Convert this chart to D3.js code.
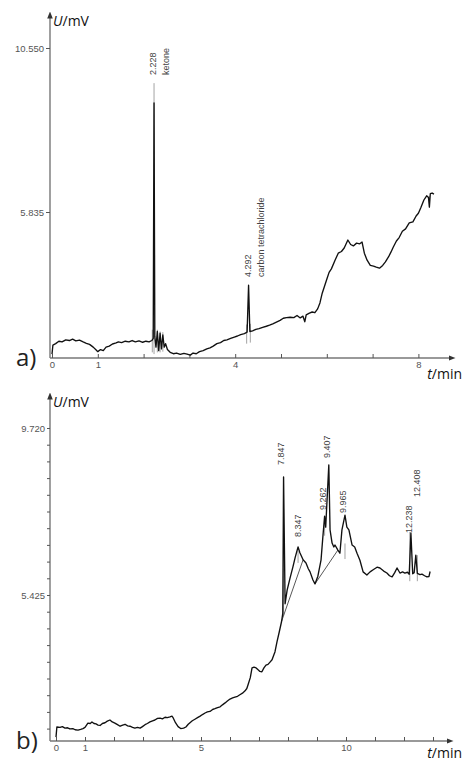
<!DOCTYPE html>
<html>
<head>
<meta charset="utf-8">
<script src="https://cdn.jsdelivr.net/npm/d3@7"></script>
<style>
  body { margin: 0; background: #fff; }
  svg { display: block; }
</style>
</head>
<body>
<div id="chart"></div>
<script>
// panel a) signal trace, t in min, U in mV
var aTime = [0.00, 0.02, 0.08, 0.15, 0.22, 0.30, 0.38, 0.45, 0.52, 0.60, 0.68, 0.75, 0.82, 0.90, 0.97, 1.00,
  1.06, 1.12, 1.18, 1.25, 1.32, 1.40, 1.45, 1.52, 1.60, 1.68, 1.75, 1.82, 1.90, 1.98, 2.05, 2.12, 2.18, 2.21,
  2.228, 2.245, 2.27, 2.30, 2.33, 2.36, 2.39, 2.42, 2.45, 2.48, 2.52, 2.58, 2.65, 2.72, 2.80, 2.88, 2.95, 3.02,
  3.08, 3.15, 3.22, 3.30, 3.38, 3.45, 3.52, 3.60, 3.68, 3.75, 3.82, 3.90, 3.98, 4.05, 4.12, 4.20, 4.26, 4.292,
  4.32, 4.38, 4.45, 4.52, 4.60, 4.68, 4.75, 4.82, 4.90, 4.98, 5.05, 5.12, 5.20, 5.28, 5.35, 5.42, 5.48, 5.52,
  5.55, 5.62, 5.68, 5.74, 5.80, 5.85, 5.90, 5.95, 6.00, 6.05, 6.10, 6.18, 6.25, 6.32, 6.38, 6.46, 6.52, 6.58,
  6.65, 6.72, 6.77, 6.82, 6.88, 6.95, 7.02, 7.08, 7.15, 7.22, 7.28, 7.35, 7.40, 7.45, 7.52, 7.58, 7.65, 7.72,
  7.80, 7.88, 7.95, 8.00, 8.05, 8.12, 8.18, 8.22, 8.24, 8.26, 8.30, 8.34];
var aVolt = [1.75, 2.01, 2.05, 2.12, 2.10, 2.16, 2.14, 2.18, 2.13, 2.15, 2.10, 2.06, 2.03, 1.95, 1.86, 1.82,
  1.88, 1.85, 1.95, 1.98, 2.04, 2.07, 2.10, 2.08, 2.12, 2.10, 2.14, 2.10, 2.13, 2.09, 2.12, 2.10, 2.14, 2.20,
  8.97, 2.25, 1.95, 2.40, 1.85, 2.35, 1.90, 2.30, 1.95, 2.05, 1.88, 1.80, 1.76, 1.78, 1.74, 1.77, 1.75, 1.72,
  1.78, 1.76, 1.82, 1.85, 1.90, 1.93, 1.98, 2.05, 2.08, 2.14, 2.16, 2.20, 2.24, 2.27, 2.31, 2.34, 2.38, 3.73,
  2.40, 2.42, 2.46, 2.48, 2.52, 2.55, 2.58, 2.62, 2.67, 2.72, 2.78, 2.80, 2.81, 2.80, 2.86, 2.79, 2.84, 2.68,
  2.88, 2.93, 2.96, 2.94, 3.05, 3.22, 3.50, 3.70, 3.90, 4.10, 4.20, 4.45, 4.65, 4.70, 4.80, 5.03, 4.90, 4.86,
  4.94, 4.92, 4.97, 4.65, 4.45, 4.30, 4.28, 4.25, 4.22, 4.30, 4.40, 4.55, 4.68, 4.82, 5.00, 5.10, 5.28, 5.35,
  5.52, 5.55, 5.72, 5.80, 5.95, 6.18, 6.30, 6.25, 5.98, 6.36, 6.38, 6.35];

// panel b) signal trace
var bTime = [0.00, 0.03, 0.14, 0.22, 0.31, 0.40, 0.48, 0.58, 0.66, 0.76, 0.85, 0.93, 1.00, 1.10, 1.18, 1.24,
  1.31, 1.38, 1.45, 1.52, 1.60, 1.69, 1.77, 1.86, 1.94, 2.03, 2.12, 2.21, 2.30, 2.38, 2.47, 2.55, 2.64, 2.72,
  2.81, 2.90, 2.98, 3.07, 3.15, 3.24, 3.33, 3.41, 3.50, 3.59, 3.67, 3.76, 3.84, 3.93, 4.00, 4.03, 4.12, 4.21,
  4.30, 4.40, 4.48, 4.56, 4.62, 4.70, 4.79, 4.88, 4.97, 5.05, 5.14, 5.22, 5.31, 5.40, 5.48, 5.57, 5.66, 5.74,
  5.83, 5.91, 6.00, 6.09, 6.17, 6.26, 6.34, 6.43, 6.52, 6.58, 6.62, 6.70, 6.76, 6.83, 6.90, 6.97, 7.03, 7.10,
  7.17, 7.24, 7.31, 7.38, 7.45, 7.52, 7.55, 7.62, 7.70, 7.78, 7.82, 7.847, 7.90, 7.97, 8.07, 8.17, 8.25, 8.347,
  8.41, 8.52, 8.62, 8.70, 8.76, 8.86, 8.93, 9.03, 9.14, 9.20, 9.262, 9.30, 9.407, 9.45, 9.52, 9.58, 9.62, 9.72,
  9.79, 9.86, 9.965, 10.03, 10.10, 10.21, 10.30, 10.38, 10.48, 10.59, 10.72, 10.83, 10.95, 11.07, 11.17, 11.30,
  11.41, 11.50, 11.59, 11.68, 11.76, 11.86, 11.95, 12.03, 12.12, 12.18, 12.238, 12.30, 12.35, 12.408, 12.46,
  12.55, 12.62, 12.71, 12.79, 12.86, 12.90];
var bVolt = [1.77, 2.03, 2.02, 2.04, 2.00, 2.01, 1.98, 1.99, 1.96, 1.95, 1.97, 1.99, 2.02, 2.13, 2.12, 2.16,
  2.12, 2.11, 2.08, 2.07, 2.12, 2.14, 2.18, 2.21, 2.16, 2.13, 2.09, 2.05, 2.08, 2.10, 2.06, 2.05, 2.02, 2.00,
  2.02, 2.00, 2.04, 2.09, 2.12, 2.16, 2.19, 2.21, 2.25, 2.26, 2.24, 2.28, 2.27, 2.29, 2.31, 2.28, 2.14, 2.04,
  1.99, 2.00, 2.03, 2.10, 2.14, 2.19, 2.23, 2.27, 2.31, 2.35, 2.39, 2.42, 2.43, 2.48, 2.50, 2.53, 2.55, 2.60,
  2.65, 2.70, 2.75, 2.78, 2.80, 2.82, 2.86, 2.90, 2.96, 3.02, 3.11, 3.30, 3.55, 3.57, 3.55, 3.50, 3.46, 3.45,
  3.55, 3.62, 3.64, 3.70, 3.76, 3.90, 3.96, 4.22, 4.48, 4.75, 4.95, 8.46, 5.20, 5.55, 5.86, 6.15, 6.40, 6.66,
  6.51, 6.33, 6.25, 6.10, 6.02, 5.81, 5.71, 5.91, 6.33, 6.90, 7.45, 7.17, 8.77, 7.10, 6.76, 6.66, 6.71, 6.58,
  6.50, 7.10, 7.48, 7.17, 7.10, 6.71, 6.66, 6.50, 6.32, 6.02, 5.94, 6.02, 6.08, 6.14, 6.12, 6.04,
  5.99, 5.92, 5.89, 6.00, 6.12, 5.99, 6.02, 5.99, 6.01, 5.96, 7.02, 5.97, 6.00, 6.45, 5.98,
  5.95, 5.96, 5.92, 5.89, 5.90, 6.03];

// integration baselines in panel b: [t0, U0, t1, U1]
var bBaselines = [[7.78, 4.75, 8.52, 6.33], [8.93, 5.71, 9.72, 6.58]];

// peak marker strokes (grey)
var aMarkTime = [2.228, 2.19, 2.30, 2.36, 2.42, 4.25, 4.33, 8.24];
var aMarkLow  = [1.75, 1.80, 1.80, 1.80, 1.82, 2.05, 2.08, 5.95];
var aMarkHigh = [9.54, 2.45, 2.45, 2.40, 2.38, 2.60, 2.62, 6.30];
var bMarkTime = [7.847, 8.347, 9.262, 9.965, 12.20, 12.46];
var bMarkLow  = [4.90, 6.25, 6.95, 6.35, 5.78, 5.78];
var bMarkHigh = [8.46, 6.55, 7.40, 6.75, 7.05, 6.45];

// peak labels
var aPeakTime = [2.228, 4.292];
var aPeakText = ["2.228", "4.292"];
var aPeakName = ["ketone", "carbon tetrachloride"];
var bPeakTime = [7.847, 8.347, 9.262, 9.407, 9.965, 12.238, 12.408];
var bPeakText = ["7.847", "8.347", "9.262", "9.407", "9.965", "12.238", "12.408"];

// ticks
var aYTicks = [10.550, 5.835];
var aXLabels = [0, 1, 4, 8];
var bYTicks = [9.720, 5.425];
var bXLabels = [0, 1, 5, 10];

var W = 466, H = 763;
var svg = d3.select("#chart").append("svg")
    .attr("width", W)
    .attr("height", H)
    .style("font-family", "'Liberation Sans', Arial, sans-serif");

svg.append("rect").attr("width", W).attr("height", H).attr("fill", "#fff");

var defs = svg.append("defs");
defs.append("marker")
    .attr("id", "arrow")
    .attr("viewBox", "0 0 10 10")
    .attr("refX", 5).attr("refY", 5)
    .attr("markerWidth", 5).attr("markerHeight", 5)
    .attr("orient", "auto")
  .append("path")
    .attr("d", "M0,1 L10,5 L0,9 z")
    .attr("fill", "#333");

var axisColor = "#777";
var labelFont = "'Open Sans', 'DejaVu Sans', sans-serif";

function drawPanel(p) {
  var g = svg.append("g");

  // axis lines with arrows
  g.append("line")
      .attr("x1", p.axisX).attr("y1", p.axisY)
      .attr("x2", p.axisX).attr("y2", p.yTop)
      .attr("stroke", axisColor).attr("stroke-width", 1.4)
      .attr("marker-end", "url(#arrow)");
  g.append("line")
      .attr("x1", p.axisX).attr("y1", p.axisY)
      .attr("x2", p.xRight).attr("y2", p.axisY)
      .attr("stroke", axisColor).attr("stroke-width", 1.4)
      .attr("marker-end", "url(#arrow)");

  // y axis ticks
  var ya = d3.axisLeft(p.y)
      .tickValues(p.yTickVals)
      .tickSize(p.yTickSize)
      .tickPadding(2)
      .tickFormat(function(d) {
        var hit = p.yLabels.filter(function(v) { return Math.abs(v - d) < 1e-6; });
        return hit.length ? d3.format(".3f")(d) : "";
      });
  var gy = g.append("g")
      .attr("transform", "translate(" + p.axisX + ",0)")
      .call(ya);
  gy.select(".domain").remove();
  gy.selectAll(".tick line").attr("stroke", "#555").attr("stroke-width", 1);
  gy.selectAll(".tick text").attr("fill", "#555").style("font-size", "9.5px");

  // x axis ticks (pointing up)
  var xa = d3.axisBottom(p.x)
      .tickValues(p.xTickVals)
      .tickSize(-4)
      .tickPadding(3)
      .tickFormat(function(d) { return p.xLabels.indexOf(d) >= 0 ? d : ""; });
  var gx = g.append("g")
      .attr("transform", "translate(0," + p.axisY + ")")
      .call(xa);
  gx.select(".domain").remove();
  gx.selectAll(".tick line").attr("stroke", "#555").attr("stroke-width", 1);
  gx.selectAll(".tick text").attr("fill", "#555").style("font-size", "9.5px");

  // marker strokes
  g.selectAll(".mark")
    .data(p.markT)
    .enter().append("line")
      .attr("x1", function(d) { return p.x(d); })
      .attr("x2", function(d) { return p.x(d); })
      .attr("y1", function(d, i) { return p.y(p.markLo[i]); })
      .attr("y2", function(d, i) { return p.y(p.markHi[i]); })
      .attr("stroke", "#999").attr("stroke-width", 0.9);

  // baselines
  if (p.baselines) {
    g.selectAll(".base")
      .data(p.baselines)
      .enter().append("line")
        .attr("x1", function(d) { return p.x(d[0]); })
        .attr("y1", function(d) { return p.y(d[1]); })
        .attr("x2", function(d) { return p.x(d[2]); })
        .attr("y2", function(d) { return p.y(d[3]); })
        .attr("stroke", "#444").attr("stroke-width", 0.9);
  }

  // signal trace
  var line = d3.line()
      .x(function(d, i) { return p.x(p.time[i]); })
      .y(function(d) { return p.y(d); });
  g.append("path")
      .datum(p.volt)
      .attr("d", line)
      .attr("fill", "none")
      .attr("stroke", "#111")
      .attr("stroke-width", 1.35)
      .attr("stroke-linejoin", "round");

  // axis titles
  var ut = g.append("text")
      .attr("x", p.axisX + 3).attr("y", p.yTop + 11)
      .style("font-family", labelFont).style("font-size", "14px").attr("fill", "#111");
  ut.append("tspan").style("font-style", "italic").text("U");
  ut.append("tspan").text("/mV");

  var tt = g.append("text")
      .attr("x", 462).attr("y", p.tY)
      .attr("text-anchor", "end")
      .style("font-family", labelFont).style("font-size", "14px").attr("fill", "#111");
  tt.append("tspan").style("font-style", "italic").text("t");
  tt.append("tspan").text("/min");

  g.append("text")
      .attr("x", 16).attr("y", p.axisY + 8)
      .style("font-family", labelFont).style("font-size", "24px").attr("fill", "#222")
      .text(p.tag);

  return g;
}

// panel a
var xa = d3.scaleLinear().domain([0, 8]).range([52, 418.4]);
var ya = d3.scaleLinear().domain([10.55, 5.835]).range([48, 212]);
var gA = drawPanel({
  x: xa, y: ya, axisX: 50, axisY: 358, yTop: 15, xRight: 452, tY: 379,
  yTickVals: aYTicks, yLabels: aYTicks, yTickSize: 4,
  xTickVals: d3.range(0, 9), xLabels: aXLabels,
  time: aTime, volt: aVolt,
  markT: aMarkTime, markLo: aMarkLow, markHi: aMarkHigh,
  tag: "a)"
});

// panel a peak labels
var aLabelBottom = [75, 277];
aPeakTime.forEach(function(t, i) {
  var px = xa(t);
  gA.append("text")
      .attr("transform", "translate(" + (px - 1) + "," + aLabelBottom[i] + ") rotate(-90)")
      .attr("dy", "0.35em")
      .style("font-size", "9px").attr("fill", "#444")
      .text(aPeakText[i]);
  gA.append("text")
      .attr("transform", "translate(" + (px + 12) + "," + aLabelBottom[i] + ") rotate(-90)")
      .attr("dy", "0.35em")
      .style("font-size", "9px").attr("fill", "#444")
      .text(aPeakName[i]);
});

// panel b
var xb = d3.scaleLinear().domain([0, 10]).range([56, 346]);
var yb = d3.scaleLinear().domain([9.72, 5.425]).range([428, 595]);
var gB = drawPanel({
  x: xb, y: yb, axisX: 50, axisY: 741, yTop: 396, xRight: 450, tY: 758,
  yTickVals: d3.range(0, 19).map(function(k) { return 9.72 - k * (9.72 - 5.425) / 10; }),
  yLabels: bYTicks, yTickSize: 3,
  xTickVals: d3.range(0, 14), xLabels: bXLabels,
  time: bTime, volt: bVolt,
  markT: bMarkTime, markLo: bMarkLow, markHi: bMarkHigh,
  baselines: bBaselines,
  tag: "b)"
});

// panel b peak labels (bottom of each rotated label, px)
var bLabelBottom = [465, 537, 510, 458, 513, 533, 497];
var bLabelShift = [-3, 0, -2, -2, -2, -2, 1];
bPeakTime.forEach(function(t, i) {
  gB.append("text")
      .attr("transform", "translate(" + (xb(t) + bLabelShift[i]) + "," + bLabelBottom[i] + ") rotate(-90)")
      .attr("dy", "0.35em")
      .style("font-size", "9px").attr("fill", "#444")
      .text(bPeakText[i]);
});
</script>
</body>
</html>
